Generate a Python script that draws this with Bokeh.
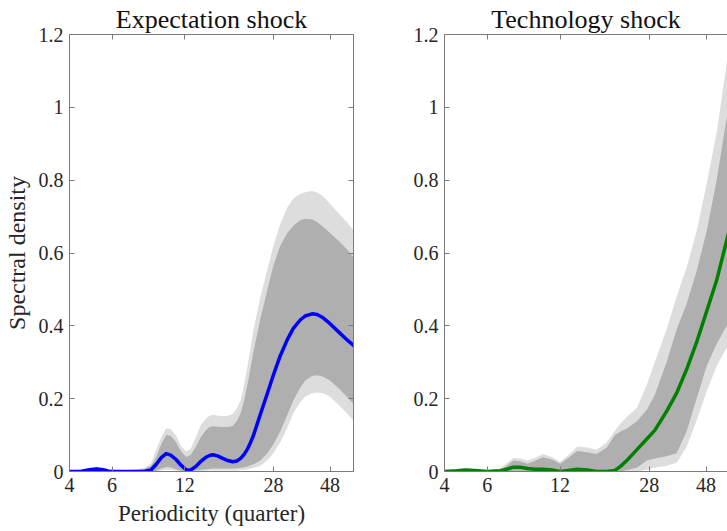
from bokeh.plotting import figure
from bokeh.layouts import row
from bokeh.models import (Range1d, FixedTicker, CustomJSTickFormatter,
                          LinearAxis, LogAxis)
from bokeh.embed import file_html
from bokeh.resources import INLINE

# ---- Expectation shock: spectral density by periodicity (quarters) ----
exp_period = [4.0, 4.5, 4.85, 5.18, 5.5, 5.8, 6.56, 7.56, 8.2, 8.7,
              9.15, 9.6, 10.05, 10.5, 11.05, 11.6, 12.15, 12.7, 13.35, 14.0,
              14.68, 15.2, 15.68, 16.4, 17.24, 18.1, 18.96, 19.7, 20.46, 21.15,
              21.85, 22.5, 23.13, 24.71, 26.40, 27.95, 29.85, 31.92, 33.80, 36.1,
              37.84, 40.4, 42.4, 44.9, 47.97, 52.7, 56.3, 60.0]
exp_median = [0.000, 0.001, 0.005, 0.007, 0.005, 0.001, 0.000, 0.000, 0.001, 0.004,
              0.020, 0.038, 0.049, 0.045, 0.033, 0.017, 0.005, 0.004, 0.014, 0.028,
              0.039, 0.044, 0.046, 0.043, 0.036, 0.030, 0.027, 0.029, 0.036, 0.047,
              0.062, 0.080, 0.100, 0.158, 0.215, 0.265, 0.318, 0.362, 0.393, 0.416,
              0.427, 0.433, 0.431, 0.422, 0.406, 0.380, 0.362, 0.346]
exp_inner_hi = [0.002, 0.004, 0.008, 0.010, 0.008, 0.004, 0.002, 0.004, 0.007, 0.015,
                0.040, 0.075, 0.100, 0.098, 0.080, 0.055, 0.040, 0.045, 0.068, 0.095,
                0.113, 0.122, 0.124, 0.123, 0.122, 0.122, 0.125, 0.138, 0.160, 0.195,
                0.240, 0.285, 0.330, 0.420, 0.500, 0.565, 0.620, 0.655, 0.675, 0.690,
                0.694, 0.692, 0.685, 0.672, 0.655, 0.630, 0.610, 0.588]
exp_inner_lo = [0.000, 0.000, 0.000, 0.000, 0.000, 0.000, 0.000, 0.000, 0.000, 0.000,
                0.002, 0.008, 0.012, 0.011, 0.006, 0.002, 0.000, 0.001, 0.003, 0.005,
                0.006, 0.007, 0.008, 0.008, 0.008, 0.008, 0.008, 0.009, 0.010, 0.012,
                0.014, 0.017, 0.020, 0.030, 0.050, 0.075, 0.110, 0.155, 0.195, 0.230,
                0.250, 0.262, 0.264, 0.260, 0.250, 0.225, 0.205, 0.186]
exp_outer_hi = [0.003, 0.006, 0.011, 0.014, 0.011, 0.007, 0.003, 0.006, 0.010, 0.022,
                0.060, 0.095, 0.118, 0.117, 0.098, 0.070, 0.055, 0.062, 0.095, 0.128,
                0.145, 0.153, 0.156, 0.154, 0.152, 0.153, 0.158, 0.172, 0.195, 0.240,
                0.290, 0.340, 0.390, 0.480, 0.555, 0.620, 0.680, 0.725, 0.750, 0.762,
                0.767, 0.770, 0.766, 0.756, 0.735, 0.705, 0.685, 0.662]
exp_outer_lo = [0.000, 0.000, 0.000, 0.000, 0.000, 0.000, 0.000, 0.000, 0.000, 0.000,
                0.000, 0.003, 0.005, 0.004, 0.002, 0.000, 0.000, 0.000, 0.000, 0.001,
                0.002, 0.003, 0.003, 0.003, 0.003, 0.003, 0.003, 0.003, 0.004, 0.005,
                0.006, 0.008, 0.010, 0.016, 0.030, 0.050, 0.080, 0.120, 0.160, 0.190,
                0.205, 0.215, 0.217, 0.215, 0.205, 0.180, 0.160, 0.140]

# ---- Technology shock ----
tech_period = [4.0, 4.5, 4.9, 5.5, 6.0, 6.8, 7.3, 7.7, 8.2, 8.8,
               9.5, 10.2, 11.1, 12.0, 13.0, 14.1, 15.5, 17.0, 18.7, 20.2,
               21.3, 22.6, 24.9, 27.4, 29.5, 33.0, 36.3, 39.9, 43.9, 48.3,
               53.1, 58.4, 60.0]
tech_median = [0.000, 0.002, 0.004, 0.002, 0.000, 0.002, 0.007, 0.012, 0.012, 0.008,
               0.006, 0.006, 0.004, 0.000, 0.003, 0.006, 0.004, 0.000, 0.000, 0.003,
               0.014, 0.030, 0.060, 0.090, 0.113, 0.165, 0.215, 0.280, 0.355, 0.440,
               0.525, 0.634, 0.665]
tech_inner_hi = [0.001, 0.003, 0.006, 0.003, 0.001, 0.004, 0.018, 0.030, 0.028, 0.021,
                 0.030, 0.039, 0.033, 0.021, 0.038, 0.056, 0.053, 0.048, 0.066, 0.100,
                 0.110, 0.118, 0.138, 0.170, 0.210, 0.300, 0.390, 0.460, 0.550, 0.660,
                 0.800, 0.970, 1.010]
tech_inner_lo = [0.000, 0.000, 0.000, 0.000, 0.000, 0.000, 0.000, 0.002, 0.002, 0.001,
                 0.000, 0.000, 0.000, 0.000, 0.000, 0.000, 0.000, 0.000, 0.000, 0.000,
                 0.000, 0.004, 0.010, 0.030, 0.036, 0.042, 0.050, 0.110, 0.200, 0.290,
                 0.350, 0.400, 0.420]
tech_outer_hi = [0.002, 0.005, 0.008, 0.005, 0.003, 0.008, 0.025, 0.037, 0.036, 0.030,
                 0.038, 0.048, 0.040, 0.026, 0.045, 0.068, 0.066, 0.060, 0.080, 0.112,
                 0.132, 0.150, 0.175, 0.240, 0.300, 0.390, 0.480, 0.560, 0.660, 0.790,
                 0.930, 1.120, 1.160]
tech_outer_lo = [0.000, 0.000, 0.000, 0.000, 0.000, 0.000, 0.000, 0.000, 0.000, 0.000,
                 0.000, 0.000, 0.000, 0.000, 0.000, 0.000, 0.000, 0.000, 0.000, 0.000,
                 0.000, 0.000, 0.000, 0.005, 0.010, 0.016, 0.024, 0.067, 0.140, 0.220,
                 0.290, 0.340, 0.360]

x_ticks = [4, 6, 12, 28, 48]
y_ticks = [0, 0.2, 0.4, 0.6, 0.8, 1.0, 1.2]

FONT = "Liberation Serif"
AXIS_GREY = "#7a7a7a"
TEXT = "#262626"
OUTER_BAND = "#dddddd"
INNER_BAND = "#afafaf"

LEFT_FRAME_W = 285
RIGHT_FRAME_W = 283
X_MIN, X_MAX = 4, 60

num_fmt = CustomJSTickFormatter(code="return String(Math.round(tick * 10) / 10);")
blank_fmt = CustomJSTickFormatter(code="return '';")


def style_axis(ax, ticks, show_labels):
    ax.ticker = FixedTicker(ticks=ticks, minor_ticks=[])
    ax.formatter = num_fmt if show_labels else blank_fmt
    ax.axis_line_color = AXIS_GREY
    ax.axis_line_width = 1
    ax.major_tick_line_color = AXIS_GREY
    ax.major_tick_in = 5
    ax.major_tick_out = 0
    ax.minor_tick_line_color = None
    ax.major_label_text_font = FONT
    ax.major_label_text_font_size = "20px"
    ax.major_label_text_color = TEXT
    ax.major_label_standoff = 6 if show_labels else 0
    ax.axis_label_text_font = FONT
    ax.axis_label_text_font_style = "normal"
    ax.axis_label_text_color = TEXT
    ax.axis_label_standoff = 6


def panel(title, period, med, in_lo, in_hi, out_lo, out_hi, color,
          width, border_left, border_right, x_end, right_axis, labels):
    p = figure(width=width, height=531, x_axis_type="log",
               x_range=Range1d(X_MIN, x_end), y_range=Range1d(0, 1.2),
               output_backend="svg", toolbar_location=None,
               min_border_left=border_left, min_border_right=border_right,
               min_border_top=34, min_border_bottom=60,
               outline_line_color=None, background_fill_color="white",
               border_fill_color="white")
    p.grid.visible = False

    p.varea(x=period, y1=out_lo, y2=out_hi, fill_color=OUTER_BAND)
    p.varea(x=period, y1=in_lo, y2=in_hi, fill_color=INNER_BAND)
    p.line(period, med, line_color=color, line_width=3.5,
           line_join="round", line_cap="round")

    style_axis(p.xaxis[0], x_ticks, True)
    style_axis(p.yaxis[0], y_ticks, True)
    if labels:
        p.xaxis[0].axis_label = "Periodicity (quarter)"
        p.xaxis[0].axis_label_text_font_size = "23px"
        p.yaxis[0].axis_label = "Spectral density"
        p.yaxis[0].axis_label_text_font_size = "24px"

    top = LogAxis()
    style_axis(top, x_ticks, False)
    p.add_layout(top, "above")
    if right_axis:
        rt = LinearAxis()
        style_axis(rt, y_ticks, False)
        p.add_layout(rt, "right")

    p.title.text = title
    p.title.align = "center"
    p.title.text_font = FONT
    p.title.text_font_size = "26px"
    p.title.text_font_style = "normal"
    p.title.text_color = "#111111"
    p.title.standoff = 2
    return p


left = panel("Expectation shock", exp_period, exp_median, exp_inner_lo,
             exp_inner_hi, exp_outer_lo, exp_outer_hi, "#0000ff",
             width=68 + LEFT_FRAME_W + 18, border_left=68, border_right=18,
             x_end=X_MAX, right_axis=True, labels=True)

# The second panel runs off the page edge, so its range stops where the frame ends.
right_end = X_MIN * (X_MAX / X_MIN) ** (RIGHT_FRAME_W / LEFT_FRAME_W)
right = panel("Technology shock", tech_period, tech_median, tech_inner_lo,
              tech_inner_hi, tech_outer_lo, tech_outer_hi, "#008000",
              width=73 + RIGHT_FRAME_W, border_left=73, border_right=0,
              x_end=right_end, right_axis=False, labels=False)

layout = row(left, right, spacing=0)
open("out.html", "w").write(file_html(layout, INLINE))
